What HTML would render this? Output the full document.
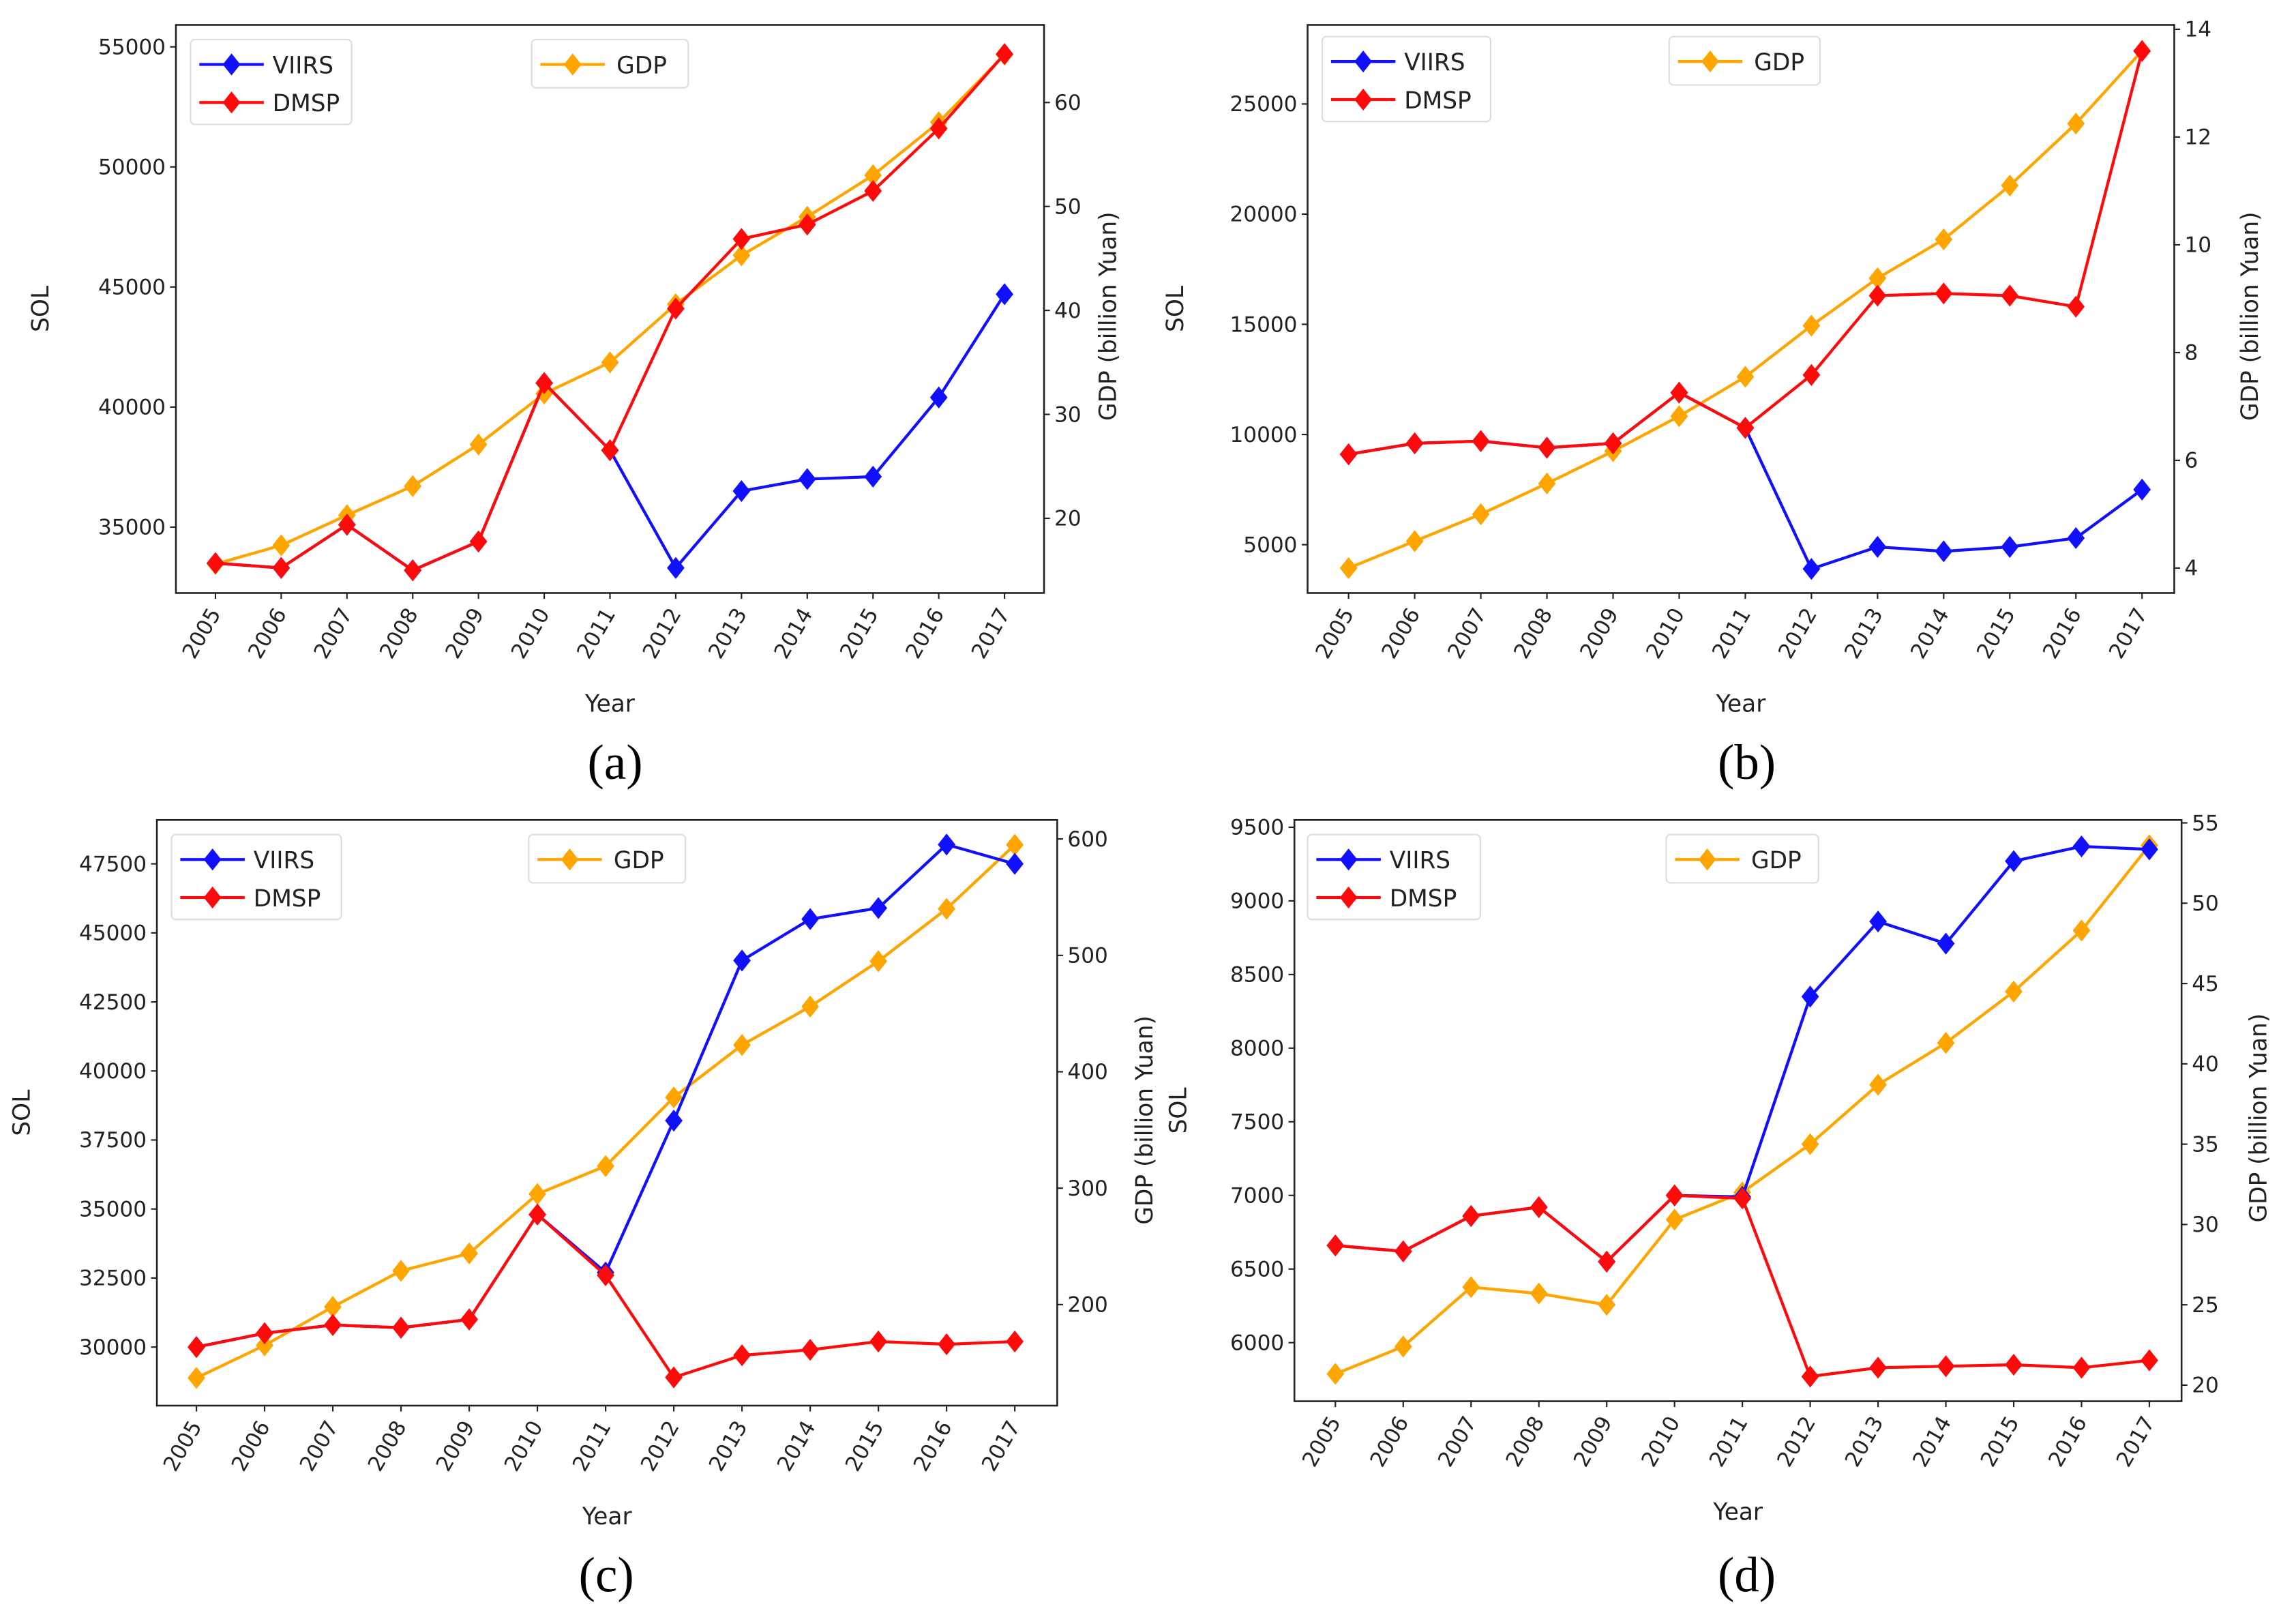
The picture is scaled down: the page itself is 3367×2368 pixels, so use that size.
<!DOCTYPE html>
<html><head><meta charset="utf-8"><style>
html,body{margin:0;padding:0;background:#fff}
svg{display:block}
text{font-family:"DejaVu Sans","Liberation Sans",sans-serif;fill:#222}
</style></head><body>
<svg id="fig" width="3367" height="2368" viewBox="0 0 1568 1103" xmlns="http://www.w3.org/2000/svg"></svg>
<script>
const years = [2005,2006,2007,2008,2009,2010,2011,2012,2013,2014,2015,2016,2017];
const viirsA = [33500,33300,35100,33200,34400,41000,38200,33300,36500,37000,37100,40400,44700];
const dmspA  = [33500,33300,35100,33200,34400,41000,38200,44100,47000,47600,49000,51600,54700];
const gdpA   = [15.6,17.4,20.3,23.1,27.1,32.0,35.0,40.6,45.3,49.0,53.0,58.1,64.6];
const viirsB = [9100,9600,9700,9400,9600,11900,10300,3900,4900,4700,4900,5300,7500];
const dmspB  = [9100,9600,9700,9400,9600,11900,10300,12700,16300,16400,16300,15800,27400];
const gdpB   = [4.0,4.5,5.0,5.57,6.17,6.82,7.55,8.5,9.38,10.1,11.1,12.25,13.6];
const viirsC = [30000,30500,30800,30700,31000,34800,32700,38200,44000,45500,45900,48200,47500];
const dmspC  = [30000,30500,30800,30700,31000,34800,32600,28900,29700,29900,30200,30100,30200];
const gdpC   = [137,165,198,229,244,295,319,378,423,456,495,540,595];
const viirsD = [6660,6620,6860,6920,6550,7000,6990,8350,8860,8710,9270,9370,9350];
const dmspD  = [6660,6620,6860,6920,6550,7000,6980,5770,5830,5840,5850,5830,5880];
const gdpD   = [20.7,22.4,26.1,25.7,25.0,30.3,32.0,35.0,38.7,41.3,44.5,48.3,53.6];
const ticksLA = [35000,40000,45000,50000,55000], ticksRA = [20,30,40,50,60];
const ticksLB = [5000,10000,15000,20000,25000], ticksRB = [4,6,8,10,12,14];
const ticksLC = [30000,32500,35000,37500,40000,42500,45000,47500], ticksRC = [200,300,400,500,600];
const ticksLD = [6000,6500,7000,7500,8000,8500,9000,9500], ticksRD = [20,25,30,35,40,45,50,55];

const NS='http://www.w3.org/2000/svg';
const fig=document.getElementById('fig');
function mk(tag,attrs,parent,txt){const e=document.createElementNS(NS,tag);for(const k in attrs)e.setAttribute(k,attrs[k]);if(txt!==undefined)e.textContent=txt;(parent||fig).appendChild(e);return e;}

const panels=[
 {id:'a',box:[120,17,713,405],x0:147,x1:686,L:[35000,360,55000,32],R:[20,354,60,70],v:viirsA,d:dmspA,g:gdpA,tl:ticksLA,tr:ticksRA,leg1:[130,27,110],leg2:[363,27,107],lab:[420,520],solx:33,gdpx:762},
 {id:'b',box:[893,17,1485,405],x0:921,x1:1463,L:[5000,372,25000,71],R:[4,388,14,20],v:viirsB,d:dmspB,g:gdpB,tl:ticksLB,tr:ticksRB,leg1:[903,25,115],leg2:[1140,25,103],lab:[1193,520],solx:808,gdpx:1542},
 {id:'c',box:[107,560,722,960],x0:134,x1:693,L:[30000,920,47500,590],R:[200,891,600,573],v:viirsC,d:dmspC,g:gdpC,tl:ticksLC,tr:ticksRC,leg1:[117,570,116],leg2:[361,570,107],lab:[414,1075],solx:20,gdpx:787},
 {id:'d',box:[884,560,1490,957],x0:912,x1:1468,L:[6000,917,9500,565],R:[20,946,55,562],v:viirsD,d:dmspD,g:gdpD,tl:ticksLD,tr:ticksRD,leg1:[893,570,118],leg2:[1138,570,104],lab:[1193,1075],solx:810,gdpx:1548}
];
function diamond(x,y,c,g){return mk('path',{d:`M${x} ${y-7.5}L${x+6} ${y}L${x} ${y+7.5}L${x-6} ${y}Z`,fill:c},g);}
panels.forEach(p=>{
 const g=mk('g',{});
 
 
 const [bx0,by0,bx1,by1]=p.box;
 const xs=i=>p.x0+(p.x1-p.x0)*i/(years.length-1);
 const yl=v=>p.L[1]+(v-p.L[0])*(p.L[3]-p.L[1])/(p.L[2]-p.L[0]);
 const yr=v=>p.R[1]+(v-p.R[0])*(p.R[3]-p.R[1])/(p.R[2]-p.R[0]);
 // ticks
 years.forEach((y,i)=>{const x=xs(i);mk('line',{x1:x,y1:by1,x2:x,y2:by1+4,stroke:'#222','stroke-width':1},g);
  const t=mk('text',{x:x+4,y:by1+14,'font-size':14.5,'text-anchor':'end',transform:`rotate(-60 ${x+4} ${by1+14})`},g,y);
  });
 p.tl.forEach(v=>{const y=yl(v);mk('line',{x1:bx0-4,y1:y,x2:bx0,y2:y,stroke:'#222'},g);
  const t=mk('text',{x:bx0-7,y:y+5,'font-size':14.5,'text-anchor':'end'},g,v);
  });
 p.tr.forEach(v=>{const y=yr(v);mk('line',{x1:bx1,y1:y,x2:bx1+4,y2:y,stroke:'#222'},g);
  const t=mk('text',{x:bx1+7,y:y+5,'font-size':14.5},g,v);
  });
 // series
 const series=[[p.g,'#ffa500',yr,'gdp-line'],[p.v,'#1010ff',yl,'viirs-line'],[p.d,'#ff0a0a',yl,'dmsp-line']];
 series.forEach(([arr,c,f,n])=>{
  const s=mk('g',{},g);
  mk('polyline',{points:arr.map((v,i)=>xs(i)+','+f(v)).join(' '),fill:'none',stroke:c,'stroke-width':2},s);
  arr.forEach((v,i)=>diamond(xs(i),f(v),c,s));
 });
 mk('rect',{x:bx0,y:by0,width:bx1-bx0,height:by1-by0,fill:'none',stroke:'#222','stroke-width':1.2},g);
 // legends
 const [lx,ly,lw]=p.leg1;
 const l1=mk('g',{},g);
 mk('rect',{x:lx,y:ly,width:lw,height:58,rx:3,fill:'#fff',stroke:'#ddd'},l1);
 [['VIIRS','#1010ff',17],['DMSP','#ff0a0a',43]].forEach(([t,c,dy])=>{
  mk('line',{x1:lx+6,y1:ly+dy,x2:lx+50,y2:ly+dy,stroke:c,'stroke-width':2},l1);diamond(lx+28,ly+dy,c,l1);
  mk('text',{x:lx+56,y:ly+dy+6,'font-size':16},l1,t);});
 const [gx,gy,gw]=p.leg2;
 const l2=mk('g',{},g);
 mk('rect',{x:gx,y:gy,width:gw,height:33,rx:3,fill:'#fff',stroke:'#ddd'},l2);
 mk('line',{x1:gx+6,y1:gy+17,x2:gx+50,y2:gy+17,stroke:'#ffa500','stroke-width':2},l2);diamond(gx+28,gy+17,'#ffa500',l2);
 mk('text',{x:gx+58,y:gy+23,'font-size':16},l2,'GDP');
 // axis titles
 const xt=mk('text',{x:(bx0+bx1)/2,y:by1+81,'font-size':16,'text-anchor':'middle'},g,'Year');
 
 const cy=(by0+by1)/2;
 const st=mk('text',{x:p.solx,y:cy,'font-size':16,'text-anchor':'middle',transform:`rotate(-90 ${p.solx} ${cy})`},g,'SOL');
 
 const gt=mk('text',{x:p.gdpx,y:cy+5,'font-size':16,'text-anchor':'middle',transform:`rotate(-90 ${p.gdpx} ${cy+5})`},g,'GDP (billion Yuan)');
 
 const lb=mk('text',{x:p.lab[0],y:p.lab[1]+12,'font-size':34,'text-anchor':'middle',style:'font-family:"Liberation Serif",serif;fill:#000'},g,'('+p.id+')');
 
});
</script>
</body></html>
